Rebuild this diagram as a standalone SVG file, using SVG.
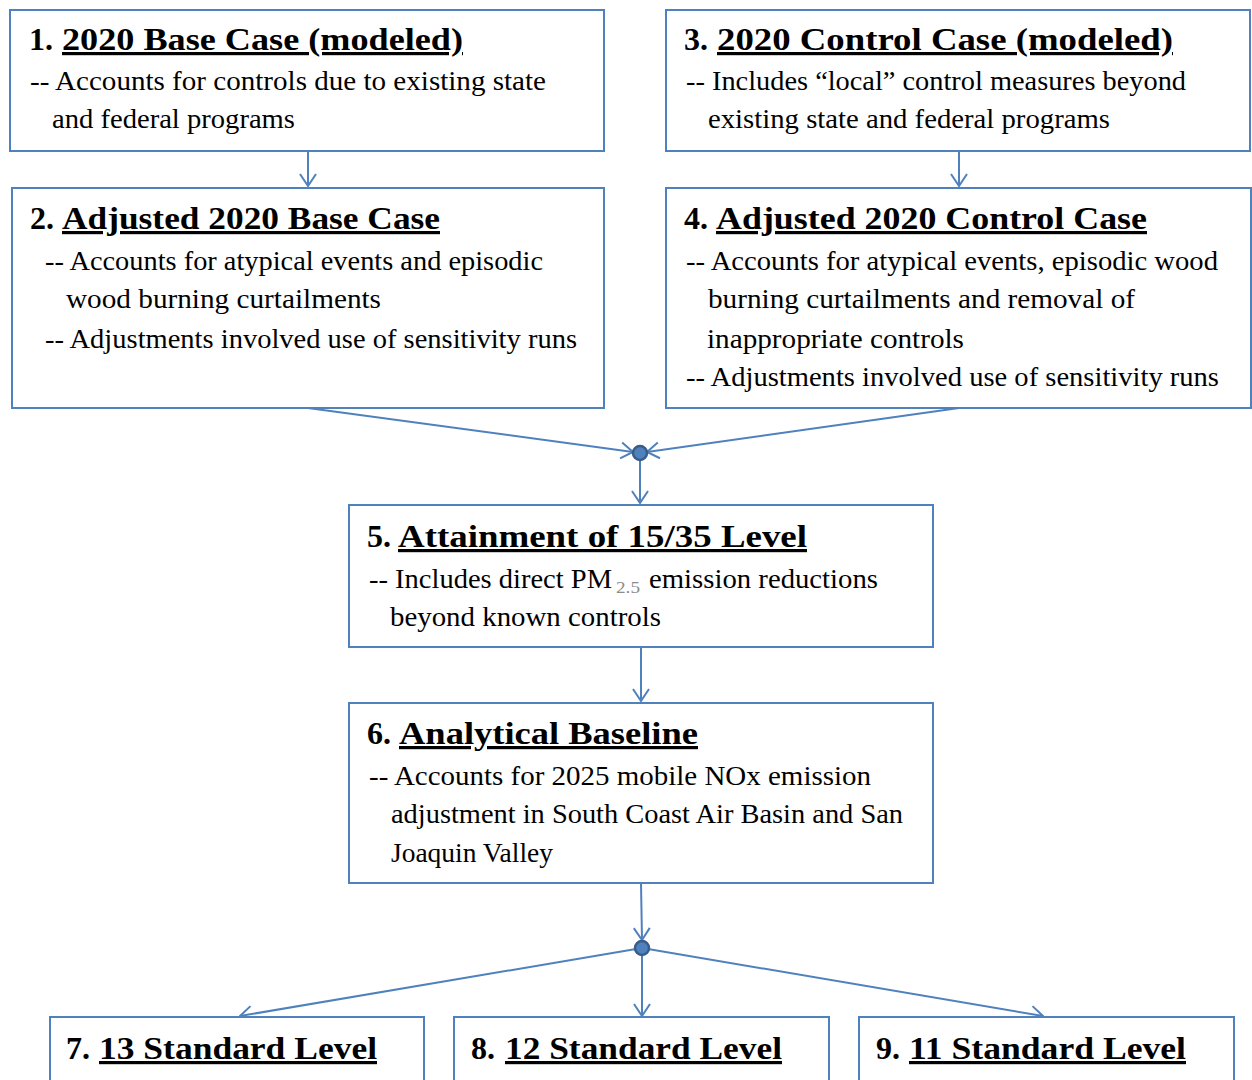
<svg xmlns="http://www.w3.org/2000/svg" width="1252" height="1080" viewBox="0 0 1252 1080">
<style>
.box{fill:#fff;stroke:#4f81bd;stroke-width:2}
.t{font-family:"Liberation Serif",serif;font-weight:bold;font-size:32px;fill:#000}
.u{text-decoration:underline}
.b{font-family:"Liberation Serif",serif;font-size:27px;fill:#000}
.sub{font-family:"Liberation Serif",serif;font-size:17px;fill:#8c8c8c}
.c{fill:none;stroke:#4f81bd;stroke-width:2}
.dot{fill:#4f81bd;stroke:#385d8a;stroke-width:2.5}
</style>
<defs>
<marker id="arr" viewBox="0 0 14 18" refX="13" refY="9" markerWidth="14" markerHeight="18" orient="auto" markerUnits="userSpaceOnUse">
<path d="M1,1 L13,9 L1,17" fill="none" stroke="#4f81bd" stroke-width="2"/>
</marker>
</defs>
<g id="connectors">
<line class="c" x1="308" y1="151" x2="308" y2="186" marker-end="url(#arr)"/>
<line class="c" x1="959" y1="151" x2="959" y2="186" marker-end="url(#arr)"/>
<line class="c" x1="308" y1="408" x2="633" y2="452" marker-end="url(#arr)"/>
<line class="c" x1="959" y1="408" x2="647" y2="452" marker-end="url(#arr)"/>
<line class="c" x1="640" y1="460" x2="640" y2="503" marker-end="url(#arr)"/>
<line class="c" x1="641" y1="647" x2="641" y2="701" marker-end="url(#arr)"/>
<line class="c" x1="641" y1="883" x2="642" y2="940" marker-end="url(#arr)"/>
<line class="c" x1="636" y1="949" x2="240" y2="1016" marker-end="url(#arr)"/>
<line class="c" x1="642" y1="956" x2="642" y2="1016" marker-end="url(#arr)"/>
<line class="c" x1="648" y1="949" x2="1043" y2="1016" marker-end="url(#arr)"/>
<circle class="dot" cx="640" cy="453" r="7"/>
<circle class="dot" cx="642" cy="948" r="7"/>
</g>
<g font-family="Liberation Serif, serif">
<g id="n1">
<rect class="box" x="10" y="10" width="594" height="141"/>
<text class="t" x="29" y="50">1.</text>
<text class="t u" x="62" y="50" textLength="401" lengthAdjust="spacingAndGlyphs">2020 Base Case (modeled)</text>
<text class="b" x="30" y="90" textLength="516" lengthAdjust="spacingAndGlyphs">-- Accounts for controls due to existing state</text>
<text class="b" x="52" y="128" textLength="243" lengthAdjust="spacingAndGlyphs">and federal programs</text>
</g>
<g id="n3">
<rect class="box" x="666" y="10" width="584" height="141"/>
<text class="t" x="684" y="50">3.</text>
<text class="t u" x="717" y="50" textLength="456" lengthAdjust="spacingAndGlyphs">2020 Control Case (modeled)</text>
<text class="b" x="686" y="90" textLength="500" lengthAdjust="spacingAndGlyphs">-- Includes “local” control measures beyond</text>
<text class="b" x="708" y="128" textLength="402" lengthAdjust="spacingAndGlyphs">existing state and federal programs</text>
</g>
<g id="n2">
<rect class="box" x="12" y="188" width="592" height="220"/>
<text class="t" x="30" y="229">2.</text>
<text class="t u" x="62" y="229" textLength="378" lengthAdjust="spacingAndGlyphs">Adjusted 2020 Base Case</text>
<text class="b" x="45" y="270" textLength="498" lengthAdjust="spacingAndGlyphs">-- Accounts for atypical events and episodic</text>
<text class="b" x="66" y="308" textLength="315" lengthAdjust="spacingAndGlyphs">wood burning curtailments</text>
<text class="b" x="45" y="348" textLength="532" lengthAdjust="spacingAndGlyphs">-- Adjustments involved use of sensitivity runs</text>
</g>
<g id="n4">
<rect class="box" x="666" y="188" width="585" height="220"/>
<text class="t" x="684" y="229">4.</text>
<text class="t u" x="716" y="229" textLength="431" lengthAdjust="spacingAndGlyphs">Adjusted 2020 Control Case</text>
<text class="b" x="686" y="270" textLength="532" lengthAdjust="spacingAndGlyphs">-- Accounts for atypical events, episodic wood</text>
<text class="b" x="708" y="308" textLength="427" lengthAdjust="spacingAndGlyphs">burning curtailments and removal of</text>
<text class="b" x="707" y="348" textLength="257" lengthAdjust="spacingAndGlyphs">inappropriate controls</text>
<text class="b" x="686" y="386" textLength="533" lengthAdjust="spacingAndGlyphs">-- Adjustments involved use of sensitivity runs</text>
</g>
<g id="n5">
<rect class="box" x="349" y="505" width="584" height="142"/>
<text class="t" x="367" y="547">5.</text>
<text class="t u" x="398" y="547" textLength="409" lengthAdjust="spacingAndGlyphs">Attainment of 15/35 Level</text>
<text class="b" x="369" y="588" textLength="243" lengthAdjust="spacingAndGlyphs">-- Includes direct PM</text>
<text class="sub" x="616" y="593" textLength="24" lengthAdjust="spacingAndGlyphs">2.5</text>
<text class="b" x="649" y="588" textLength="229" lengthAdjust="spacingAndGlyphs">emission reductions</text>
<text class="b" x="390" y="626" textLength="271" lengthAdjust="spacingAndGlyphs">beyond known controls</text>
</g>
<g id="n6">
<rect class="box" x="349" y="703" width="584" height="180"/>
<text class="t" x="367" y="744">6.</text>
<text class="t u" x="399" y="744" textLength="299" lengthAdjust="spacingAndGlyphs">Analytical Baseline</text>
<text class="b" x="369" y="785" textLength="502" lengthAdjust="spacingAndGlyphs">-- Accounts for 2025 mobile NOx emission</text>
<text class="b" x="391" y="823" textLength="512" lengthAdjust="spacingAndGlyphs">adjustment in South Coast Air Basin and San</text>
<text class="b" x="391" y="862" textLength="162" lengthAdjust="spacingAndGlyphs">Joaquin Valley</text>
</g>
<g id="n7">
<rect class="box" x="50" y="1017" width="374" height="80"/>
<text class="t" x="66" y="1059">7.</text>
<text class="t u" x="99" y="1059" textLength="278" lengthAdjust="spacingAndGlyphs">13 Standard Level</text>
</g>
<g id="n8">
<rect class="box" x="454" y="1017" width="375" height="80"/>
<text class="t" x="471" y="1059">8.</text>
<text class="t u" x="505" y="1059" textLength="277" lengthAdjust="spacingAndGlyphs">12 Standard Level</text>
</g>
<g id="n9">
<rect class="box" x="859" y="1017" width="375" height="80"/>
<text class="t" x="876" y="1059">9.</text>
<text class="t u" x="909" y="1059" textLength="277" lengthAdjust="spacingAndGlyphs">11 Standard Level</text>
</g>
</g>
</svg>
